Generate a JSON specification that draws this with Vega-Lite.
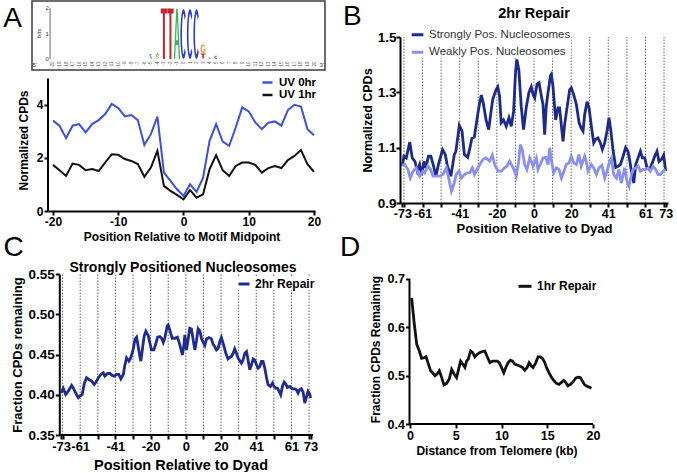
{
"$schema": "https://vega.github.io/schema/vega-lite/v6.json",
"background": "white",
"padding": {"left": 3, "top": 0, "right": 0, "bottom": 0},
"columns": 2,
"spacing": {"row": 63, "column": 85},
"bounds": "flush",
"align": "each",
"resolve": {"scale": {"color": "independent"}, "legend": {"color": "independent"}},
"datasets": {
"A": [
{"p":-20,"s":"UV 0hr","v":3.41},{"p":-19,"s":"UV 0hr","v":3.22},{"p":-18,"s":"UV 0hr","v":2.75},{"p":-17,"s":"UV 0hr","v":3.22},{"p":-16,"s":"UV 0hr","v":3.28},{"p":-15,"s":"UV 0hr","v":2.97},{"p":-14,"s":"UV 0hr","v":3.28},{"p":-13,"s":"UV 0hr","v":3.43},{"p":-12,"s":"UV 0hr","v":3.66},{"p":-11,"s":"UV 0hr","v":4.04},{"p":-10,"s":"UV 0hr","v":3.89},{"p":-9,"s":"UV 0hr","v":3.57},{"p":-8,"s":"UV 0hr","v":3.62},{"p":-7,"s":"UV 0hr","v":3.43},{"p":-6,"s":"UV 0hr","v":2.49},{"p":-5,"s":"UV 0hr","v":2.9},{"p":-4,"s":"UV 0hr","v":3.56},{"p":-3,"s":"UV 0hr","v":1.45},{"p":-2,"s":"UV 0hr","v":1.14},{"p":-1,"s":"UV 0hr","v":0.82},{"p":0,"s":"UV 0hr","v":0.57},{"p":1,"s":"UV 0hr","v":1.01},{"p":2,"s":"UV 0hr","v":0.72},{"p":3,"s":"UV 0hr","v":1.26},{"p":4,"s":"UV 0hr","v":2.65},{"p":5,"s":"UV 0hr","v":3.28},{"p":6,"s":"UV 0hr","v":2.62},{"p":7,"s":"UV 0hr","v":2.46},{"p":8,"s":"UV 0hr","v":3.15},{"p":9,"s":"UV 0hr","v":3.91},{"p":10,"s":"UV 0hr","v":3.76},{"p":11,"s":"UV 0hr","v":3.34},{"p":12,"s":"UV 0hr","v":3.09},{"p":13,"s":"UV 0hr","v":3.33},{"p":14,"s":"UV 0hr","v":3.38},{"p":15,"s":"UV 0hr","v":3.22},{"p":16,"s":"UV 0hr","v":3.81},{"p":17,"s":"UV 0hr","v":4.01},{"p":18,"s":"UV 0hr","v":3.94},{"p":19,"s":"UV 0hr","v":3.09},{"p":20,"s":"UV 0hr","v":2.86},
{"p":-20,"s":"UV 1hr","v":1.74},{"p":-19,"s":"UV 1hr","v":1.54},{"p":-18,"s":"UV 1hr","v":1.32},{"p":-17,"s":"UV 1hr","v":1.79},{"p":-16,"s":"UV 1hr","v":1.74},{"p":-15,"s":"UV 1hr","v":1.54},{"p":-14,"s":"UV 1hr","v":1.58},{"p":-13,"s":"UV 1hr","v":1.51},{"p":-12,"s":"UV 1hr","v":1.83},{"p":-11,"s":"UV 1hr","v":2.14},{"p":-10,"s":"UV 1hr","v":2.12},{"p":-9,"s":"UV 1hr","v":1.96},{"p":-8,"s":"UV 1hr","v":1.89},{"p":-7,"s":"UV 1hr","v":1.77},{"p":-6,"s":"UV 1hr","v":1.29},{"p":-5,"s":"UV 1hr","v":1.64},{"p":-4,"s":"UV 1hr","v":2.27},{"p":-3,"s":"UV 1hr","v":0.95},{"p":-2,"s":"UV 1hr","v":0.76},{"p":-1,"s":"UV 1hr","v":0.61},{"p":0,"s":"UV 1hr","v":0.44},{"p":1,"s":"UV 1hr","v":0.79},{"p":2,"s":"UV 1hr","v":0.5},{"p":3,"s":"UV 1hr","v":0.63},{"p":4,"s":"UV 1hr","v":1.58},{"p":5,"s":"UV 1hr","v":2.11},{"p":6,"s":"UV 1hr","v":1.54},{"p":7,"s":"UV 1hr","v":1.32},{"p":8,"s":"UV 1hr","v":1.7},{"p":9,"s":"UV 1hr","v":1.83},{"p":10,"s":"UV 1hr","v":1.83},{"p":11,"s":"UV 1hr","v":1.74},{"p":12,"s":"UV 1hr","v":1.45},{"p":13,"s":"UV 1hr","v":1.62},{"p":14,"s":"UV 1hr","v":1.7},{"p":15,"s":"UV 1hr","v":1.62},{"p":16,"s":"UV 1hr","v":1.92},{"p":17,"s":"UV 1hr","v":2.08},{"p":18,"s":"UV 1hr","v":2.3},{"p":19,"s":"UV 1hr","v":1.77},{"p":20,"s":"UV 1hr","v":1.48}
],
"logo": [
{"p":-3,"l":"T","top":1.98,"h":1.98},{"p":-2,"l":"T","top":1.98,"h":1.98},{"p":-1,"l":"A","top":1.97,"h":1.97},{"p":0,"l":"C","top":1.96,"h":1.96},{"p":1,"l":"C","top":1.96,"h":1.96},{"p":2,"l":"C","top":1.95,"h":1.95},{"p":3,"l":"t","top":0.22,"h":0.2},{"p":3,"l":"G","top":0.58,"h":0.36},{"p":-5,"l":"a","top":0.1,"h":0.1},{"p":-5,"l":"c","top":0.2,"h":0.1},{"p":-4,"l":"g","top":0.12,"h":0.12},{"p":-4,"l":"a","top":0.24,"h":0.12},{"p":4,"l":"a","top":0.07,"h":0.07},{"p":5,"l":"c","top":0.13,"h":0.13}
],
"dots": [{"p":-72.1},{"p":-61.8},{"p":-51.5},{"p":-41.2},{"p":-30.9},{"p":-20.6},{"p":-10.3},{"p":0},{"p":10.3},{"p":20.6},{"p":30.9},{"p":41.2},{"p":51.5},{"p":61.8},{"p":72.1}],
"B": [
{"p":-73,"s":"Strongly Pos. Nucleosomes","v":1.035},{"p":-72.1,"s":"Strongly Pos. Nucleosomes","v":1.069},{"p":-70.8,"s":"Strongly Pos. Nucleosomes","v":1.063},{"p":-68.9,"s":"Strongly Pos. Nucleosomes","v":1.12},{"p":-67.5,"s":"Strongly Pos. Nucleosomes","v":1.063},{"p":-66,"s":"Strongly Pos. Nucleosomes","v":1.05},{"p":-64.7,"s":"Strongly Pos. Nucleosomes","v":1.015},{"p":-63.4,"s":"Strongly Pos. Nucleosomes","v":1.039},{"p":-62.3,"s":"Strongly Pos. Nucleosomes","v":1.003},{"p":-61,"s":"Strongly Pos. Nucleosomes","v":1.05},{"p":-60,"s":"Strongly Pos. Nucleosomes","v":1.027},{"p":-58.5,"s":"Strongly Pos. Nucleosomes","v":1.069},{"p":-57.2,"s":"Strongly Pos. Nucleosomes","v":1.069},{"p":-55.9,"s":"Strongly Pos. Nucleosomes","v":1.039},{"p":-54.4,"s":"Strongly Pos. Nucleosomes","v":0.997},{"p":-53,"s":"Strongly Pos. Nucleosomes","v":1.039},{"p":-50.7,"s":"Strongly Pos. Nucleosomes","v":1.093},{"p":-49.2,"s":"Strongly Pos. Nucleosomes","v":1.075},{"p":-48,"s":"Strongly Pos. Nucleosomes","v":1.033},{"p":-46.1,"s":"Strongly Pos. Nucleosomes","v":0.997},{"p":-44.2,"s":"Strongly Pos. Nucleosomes","v":1.075},{"p":-43.3,"s":"Strongly Pos. Nucleosomes","v":1.087},{"p":-41.4,"s":"Strongly Pos. Nucleosomes","v":1.18},{"p":-39.9,"s":"Strongly Pos. Nucleosomes","v":1.16},{"p":-38.6,"s":"Strongly Pos. Nucleosomes","v":1.075},{"p":-36.8,"s":"Strongly Pos. Nucleosomes","v":1.065},{"p":-35.5,"s":"Strongly Pos. Nucleosomes","v":1.1},{"p":-34.4,"s":"Strongly Pos. Nucleosomes","v":1.135},{"p":-33.1,"s":"Strongly Pos. Nucleosomes","v":1.138},{"p":-31.8,"s":"Strongly Pos. Nucleosomes","v":1.195},{"p":-30.3,"s":"Strongly Pos. Nucleosomes","v":1.256},{"p":-29.2,"s":"Strongly Pos. Nucleosomes","v":1.29},{"p":-28.1,"s":"Strongly Pos. Nucleosomes","v":1.26},{"p":-26.6,"s":"Strongly Pos. Nucleosomes","v":1.2},{"p":-25.1,"s":"Strongly Pos. Nucleosomes","v":1.165},{"p":-23.8,"s":"Strongly Pos. Nucleosomes","v":1.232},{"p":-22.9,"s":"Strongly Pos. Nucleosomes","v":1.274},{"p":-21,"s":"Strongly Pos. Nucleosomes","v":1.31},{"p":-20.1,"s":"Strongly Pos. Nucleosomes","v":1.32},{"p":-19.1,"s":"Strongly Pos. Nucleosomes","v":1.286},{"p":-18.2,"s":"Strongly Pos. Nucleosomes","v":1.19},{"p":-16.9,"s":"Strongly Pos. Nucleosomes","v":1.2},{"p":-15.4,"s":"Strongly Pos. Nucleosomes","v":1.177},{"p":-13.9,"s":"Strongly Pos. Nucleosomes","v":1.208},{"p":-12.6,"s":"Strongly Pos. Nucleosomes","v":1.177},{"p":-11.3,"s":"Strongly Pos. Nucleosomes","v":1.232},{"p":-10.2,"s":"Strongly Pos. Nucleosomes","v":1.377},{"p":-9.5,"s":"Strongly Pos. Nucleosomes","v":1.419},{"p":-8.4,"s":"Strongly Pos. Nucleosomes","v":1.38},{"p":-7.1,"s":"Strongly Pos. Nucleosomes","v":1.25},{"p":-5.8,"s":"Strongly Pos. Nucleosomes","v":1.165},{"p":-4.3,"s":"Strongly Pos. Nucleosomes","v":1.245},{"p":-2.8,"s":"Strongly Pos. Nucleosomes","v":1.3},{"p":-1.5,"s":"Strongly Pos. Nucleosomes","v":1.32},{"p":-0.4,"s":"Strongly Pos. Nucleosomes","v":1.29},{"p":0.4,"s":"Strongly Pos. Nucleosomes","v":1.28},{"p":1.7,"s":"Strongly Pos. Nucleosomes","v":1.33},{"p":2.8,"s":"Strongly Pos. Nucleosomes","v":1.335},{"p":4.1,"s":"Strongly Pos. Nucleosomes","v":1.286},{"p":5,"s":"Strongly Pos. Nucleosomes","v":1.256},{"p":5.9,"s":"Strongly Pos. Nucleosomes","v":1.147},{"p":6.8,"s":"Strongly Pos. Nucleosomes","v":1.25},{"p":7.8,"s":"Strongly Pos. Nucleosomes","v":1.3},{"p":9.1,"s":"Strongly Pos. Nucleosomes","v":1.36},{"p":9.6,"s":"Strongly Pos. Nucleosomes","v":1.365},{"p":10.5,"s":"Strongly Pos. Nucleosomes","v":1.323},{"p":12,"s":"Strongly Pos. Nucleosomes","v":1.2},{"p":13.3,"s":"Strongly Pos. Nucleosomes","v":1.244},{"p":14.2,"s":"Strongly Pos. Nucleosomes","v":1.244},{"p":15.2,"s":"Strongly Pos. Nucleosomes","v":1.178},{"p":16.1,"s":"Strongly Pos. Nucleosomes","v":1.123},{"p":17,"s":"Strongly Pos. Nucleosomes","v":1.184},{"p":18.3,"s":"Strongly Pos. Nucleosomes","v":1.244},{"p":19.8,"s":"Strongly Pos. Nucleosomes","v":1.31},{"p":20.7,"s":"Strongly Pos. Nucleosomes","v":1.316},{"p":22,"s":"Strongly Pos. Nucleosomes","v":1.292},{"p":23.5,"s":"Strongly Pos. Nucleosomes","v":1.256},{"p":25,"s":"Strongly Pos. Nucleosomes","v":1.19},{"p":26.2,"s":"Strongly Pos. Nucleosomes","v":1.17},{"p":27.2,"s":"Strongly Pos. Nucleosomes","v":1.16},{"p":28.1,"s":"Strongly Pos. Nucleosomes","v":1.22},{"p":29.4,"s":"Strongly Pos. Nucleosomes","v":1.266},{"p":30.5,"s":"Strongly Pos. Nucleosomes","v":1.244},{"p":31.8,"s":"Strongly Pos. Nucleosomes","v":1.178},{"p":33.1,"s":"Strongly Pos. Nucleosomes","v":1.117},{"p":34.2,"s":"Strongly Pos. Nucleosomes","v":1.13},{"p":35.5,"s":"Strongly Pos. Nucleosomes","v":1.135},{"p":36.8,"s":"Strongly Pos. Nucleosomes","v":1.117},{"p":37.9,"s":"Strongly Pos. Nucleosomes","v":1.093},{"p":39.2,"s":"Strongly Pos. Nucleosomes","v":1.117},{"p":40.5,"s":"Strongly Pos. Nucleosomes","v":1.16},{"p":41.6,"s":"Strongly Pos. Nucleosomes","v":1.208},{"p":42.5,"s":"Strongly Pos. Nucleosomes","v":1.166},{"p":43.8,"s":"Strongly Pos. Nucleosomes","v":1.093},{"p":45.3,"s":"Strongly Pos. Nucleosomes","v":1.029},{"p":46.6,"s":"Strongly Pos. Nucleosomes","v":1.033},{"p":47.9,"s":"Strongly Pos. Nucleosomes","v":1.039},{"p":49.4,"s":"Strongly Pos. Nucleosomes","v":1.069},{"p":50.8,"s":"Strongly Pos. Nucleosomes","v":1.1},{"p":52.1,"s":"Strongly Pos. Nucleosomes","v":1.087},{"p":53,"s":"Strongly Pos. Nucleosomes","v":1.057},{"p":54,"s":"Strongly Pos. Nucleosomes","v":1.015},{"p":55.3,"s":"Strongly Pos. Nucleosomes","v":0.972},{"p":56.4,"s":"Strongly Pos. Nucleosomes","v":1.039},{"p":57.7,"s":"Strongly Pos. Nucleosomes","v":1.063},{"p":59,"s":"Strongly Pos. Nucleosomes","v":1.087},{"p":60.1,"s":"Strongly Pos. Nucleosomes","v":1.063},{"p":61.4,"s":"Strongly Pos. Nucleosomes","v":1.063},{"p":62.7,"s":"Strongly Pos. Nucleosomes","v":1.027},{"p":64.1,"s":"Strongly Pos. Nucleosomes","v":1.021},{"p":65.6,"s":"Strongly Pos. Nucleosomes","v":1.045},{"p":66.9,"s":"Strongly Pos. Nucleosomes","v":1.069},{"p":68.2,"s":"Strongly Pos. Nucleosomes","v":1.087},{"p":69.3,"s":"Strongly Pos. Nucleosomes","v":1.05},{"p":70.6,"s":"Strongly Pos. Nucleosomes","v":1.057},{"p":71.9,"s":"Strongly Pos. Nucleosomes","v":1.073},{"p":73,"s":"Strongly Pos. Nucleosomes","v":1.015},
{"p":-73,"s":"Weakly Pos. Nucleosomes","v":1.036},{"p":-71.7,"s":"Weakly Pos. Nucleosomes","v":1.039},{"p":-69.9,"s":"Weakly Pos. Nucleosomes","v":1.021},{"p":-68.6,"s":"Weakly Pos. Nucleosomes","v":0.99},{"p":-67.1,"s":"Weakly Pos. Nucleosomes","v":1.015},{"p":-65.3,"s":"Weakly Pos. Nucleosomes","v":1.027},{"p":-63.4,"s":"Weakly Pos. Nucleosomes","v":0.997},{"p":-61.6,"s":"Weakly Pos. Nucleosomes","v":1.015},{"p":-60.6,"s":"Weakly Pos. Nucleosomes","v":1.009},{"p":-58.8,"s":"Weakly Pos. Nucleosomes","v":1.033},{"p":-57.3,"s":"Weakly Pos. Nucleosomes","v":1.021},{"p":-56,"s":"Weakly Pos. Nucleosomes","v":0.997},{"p":-54.2,"s":"Weakly Pos. Nucleosomes","v":0.997},{"p":-52.3,"s":"Weakly Pos. Nucleosomes","v":0.997},{"p":-50.5,"s":"Weakly Pos. Nucleosomes","v":1.003},{"p":-48.6,"s":"Weakly Pos. Nucleosomes","v":1.027},{"p":-47.3,"s":"Weakly Pos. Nucleosomes","v":0.99},{"p":-45.8,"s":"Weakly Pos. Nucleosomes","v":0.942},{"p":-44.5,"s":"Weakly Pos. Nucleosomes","v":0.966},{"p":-43.1,"s":"Weakly Pos. Nucleosomes","v":1.003},{"p":-41.6,"s":"Weakly Pos. Nucleosomes","v":1.015},{"p":-40.3,"s":"Weakly Pos. Nucleosomes","v":0.99},{"p":-38.5,"s":"Weakly Pos. Nucleosomes","v":1.003},{"p":-37,"s":"Weakly Pos. Nucleosomes","v":1.009},{"p":-35.7,"s":"Weakly Pos. Nucleosomes","v":1.009},{"p":-34.2,"s":"Weakly Pos. Nucleosomes","v":1.027},{"p":-33,"s":"Weakly Pos. Nucleosomes","v":1.003},{"p":-31.6,"s":"Weakly Pos. Nucleosomes","v":1.021},{"p":-30.1,"s":"Weakly Pos. Nucleosomes","v":1.039},{"p":-28.3,"s":"Weakly Pos. Nucleosomes","v":1.057},{"p":-26.5,"s":"Weakly Pos. Nucleosomes","v":1.063},{"p":-24.6,"s":"Weakly Pos. Nucleosomes","v":1.051},{"p":-23.1,"s":"Weakly Pos. Nucleosomes","v":1.073},{"p":-21.8,"s":"Weakly Pos. Nucleosomes","v":1.039},{"p":-20,"s":"Weakly Pos. Nucleosomes","v":1.015},{"p":-18.1,"s":"Weakly Pos. Nucleosomes","v":1.015},{"p":-16.3,"s":"Weakly Pos. Nucleosomes","v":1.027},{"p":-15,"s":"Weakly Pos. Nucleosomes","v":1.033},{"p":-13.5,"s":"Weakly Pos. Nucleosomes","v":1.051},{"p":-11.6,"s":"Weakly Pos. Nucleosomes","v":1.027},{"p":-9.8,"s":"Weakly Pos. Nucleosomes","v":0.997},{"p":-8.5,"s":"Weakly Pos. Nucleosomes","v":1.051},{"p":-7.6,"s":"Weakly Pos. Nucleosomes","v":1.111},{"p":-6.5,"s":"Weakly Pos. Nucleosomes","v":1.093},{"p":-5.2,"s":"Weakly Pos. Nucleosomes","v":1.039},{"p":-3.9,"s":"Weakly Pos. Nucleosomes","v":1.021},{"p":-2.4,"s":"Weakly Pos. Nucleosomes","v":1.063},{"p":-1.5,"s":"Weakly Pos. Nucleosomes","v":1.051},{"p":-0.6,"s":"Weakly Pos. Nucleosomes","v":1.033},{"p":1.3,"s":"Weakly Pos. Nucleosomes","v":1.063},{"p":2.2,"s":"Weakly Pos. Nucleosomes","v":1.021},{"p":3.5,"s":"Weakly Pos. Nucleosomes","v":1.039},{"p":5,"s":"Weakly Pos. Nucleosomes","v":1.063},{"p":6.5,"s":"Weakly Pos. Nucleosomes","v":1.065},{"p":7.8,"s":"Weakly Pos. Nucleosomes","v":1.039},{"p":8.7,"s":"Weakly Pos. Nucleosomes","v":1.099},{"p":9.6,"s":"Weakly Pos. Nucleosomes","v":1.057},{"p":10.9,"s":"Weakly Pos. Nucleosomes","v":1.009},{"p":12.4,"s":"Weakly Pos. Nucleosomes","v":1.027},{"p":13.9,"s":"Weakly Pos. Nucleosomes","v":1.021},{"p":15.2,"s":"Weakly Pos. Nucleosomes","v":0.99},{"p":16.6,"s":"Weakly Pos. Nucleosomes","v":1.015},{"p":17.9,"s":"Weakly Pos. Nucleosomes","v":1.039},{"p":19.4,"s":"Weakly Pos. Nucleosomes","v":1.045},{"p":20.7,"s":"Weakly Pos. Nucleosomes","v":1.069},{"p":22,"s":"Weakly Pos. Nucleosomes","v":1.045},{"p":23.5,"s":"Weakly Pos. Nucleosomes","v":1.039},{"p":24.9,"s":"Weakly Pos. Nucleosomes","v":1.075},{"p":26.2,"s":"Weakly Pos. Nucleosomes","v":1.033},{"p":28.1,"s":"Weakly Pos. Nucleosomes","v":1.069},{"p":29,"s":"Weakly Pos. Nucleosomes","v":1.051},{"p":29.9,"s":"Weakly Pos. Nucleosomes","v":1.015},{"p":31.8,"s":"Weakly Pos. Nucleosomes","v":1.039},{"p":33.1,"s":"Weakly Pos. Nucleosomes","v":1.027},{"p":34.6,"s":"Weakly Pos. Nucleosomes","v":1.003},{"p":36,"s":"Weakly Pos. Nucleosomes","v":1.027},{"p":37.7,"s":"Weakly Pos. Nucleosomes","v":1.036},{"p":39.2,"s":"Weakly Pos. Nucleosomes","v":0.99},{"p":40.5,"s":"Weakly Pos. Nucleosomes","v":1.015},{"p":42,"s":"Weakly Pos. Nucleosomes","v":1.051},{"p":42.9,"s":"Weakly Pos. Nucleosomes","v":1.063},{"p":44.2,"s":"Weakly Pos. Nucleosomes","v":1.003},{"p":45.7,"s":"Weakly Pos. Nucleosomes","v":0.99},{"p":47.1,"s":"Weakly Pos. Nucleosomes","v":1.021},{"p":48.4,"s":"Weakly Pos. Nucleosomes","v":0.972},{"p":50.3,"s":"Weakly Pos. Nucleosomes","v":1.027},{"p":51.6,"s":"Weakly Pos. Nucleosomes","v":0.978},{"p":52.7,"s":"Weakly Pos. Nucleosomes","v":0.96},{"p":54,"s":"Weakly Pos. Nucleosomes","v":1.003},{"p":54.9,"s":"Weakly Pos. Nucleosomes","v":1.021},{"p":56.4,"s":"Weakly Pos. Nucleosomes","v":1.027},{"p":57.7,"s":"Weakly Pos. Nucleosomes","v":1.033},{"p":59,"s":"Weakly Pos. Nucleosomes","v":1.015},{"p":60.5,"s":"Weakly Pos. Nucleosomes","v":1.021},{"p":61.9,"s":"Weakly Pos. Nucleosomes","v":1.021},{"p":63.2,"s":"Weakly Pos. Nucleosomes","v":1.027},{"p":64.5,"s":"Weakly Pos. Nucleosomes","v":1.015},{"p":66,"s":"Weakly Pos. Nucleosomes","v":1.033},{"p":67.5,"s":"Weakly Pos. Nucleosomes","v":1.021},{"p":68.8,"s":"Weakly Pos. Nucleosomes","v":1.003},{"p":70.1,"s":"Weakly Pos. Nucleosomes","v":1.003},{"p":71.6,"s":"Weakly Pos. Nucleosomes","v":1.015},{"p":73,"s":"Weakly Pos. Nucleosomes","v":1.021}
],
"C": [
{"p":-73,"v":0.4025},{"p":-71.7,"v":0.4078},{"p":-70.3,"v":0.4004},{"p":-68.8,"v":0.4045},{"p":-66.8,"v":0.4116},{"p":-65.9,"v":0.4087},{"p":-64.5,"v":0.4025},{"p":-62.9,"v":0.3963},{"p":-62,"v":0.3983},{"p":-60.6,"v":0.4004},{"p":-59.4,"v":0.414},{"p":-58.1,"v":0.4211},{"p":-56.7,"v":0.419},{"p":-55.1,"v":0.417},{"p":-53.6,"v":0.4128},{"p":-52.2,"v":0.417},{"p":-51.2,"v":0.4211},{"p":-49.7,"v":0.4252},{"p":-48.3,"v":0.4273},{"p":-47.4,"v":0.4231},{"p":-45.8,"v":0.4264},{"p":-44.4,"v":0.4264},{"p":-43.1,"v":0.424},{"p":-41.9,"v":0.4231},{"p":-40.5,"v":0.4252},{"p":-39.2,"v":0.4252},{"p":-38,"v":0.4198},{"p":-36.6,"v":0.4252},{"p":-35.7,"v":0.4364},{"p":-34.7,"v":0.4459},{"p":-33.3,"v":0.4417},{"p":-32.2,"v":0.4459},{"p":-30.8,"v":0.4562},{"p":-29.8,"v":0.4686},{"p":-28.8,"v":0.4715},{"p":-27.9,"v":0.4603},{"p":-26.9,"v":0.4479},{"p":-26.3,"v":0.4417},{"p":-25.3,"v":0.4583},{"p":-24.4,"v":0.4727},{"p":-23.4,"v":0.4789},{"p":-22,"v":0.4735},{"p":-21,"v":0.464},{"p":-20.1,"v":0.4558},{"p":-18.7,"v":0.4558},{"p":-17.5,"v":0.464},{"p":-16.5,"v":0.4715},{"p":-15.2,"v":0.4723},{"p":-14.2,"v":0.4702},{"p":-13.2,"v":0.4649},{"p":-12.3,"v":0.4702},{"p":-10.9,"v":0.4855},{"p":-10.3,"v":0.4867},{"p":-9.4,"v":0.4806},{"p":-8,"v":0.4702},{"p":-6.4,"v":0.4702},{"p":-4.9,"v":0.4715},{"p":-3.5,"v":0.462},{"p":-2,"v":0.4495},{"p":-1.2,"v":0.4599},{"p":-0.6,"v":0.4744},{"p":0,"v":0.4628},{"p":0.4,"v":0.4557},{"p":1.4,"v":0.4694},{"p":2.3,"v":0.4826},{"p":3.3,"v":0.4818},{"p":4.3,"v":0.4682},{"p":5.3,"v":0.4557},{"p":6.2,"v":0.4669},{"p":7.2,"v":0.4818},{"p":8.2,"v":0.4793},{"p":9.2,"v":0.4694},{"p":10.1,"v":0.4653},{"p":11.1,"v":0.4612},{"p":12.1,"v":0.4694},{"p":13.6,"v":0.471},{"p":15,"v":0.4694},{"p":15.9,"v":0.4628},{"p":16.9,"v":0.4599},{"p":17.9,"v":0.4557},{"p":18.9,"v":0.4578},{"p":19.9,"v":0.4661},{"p":20.8,"v":0.471},{"p":21.8,"v":0.464},{"p":23.4,"v":0.4516},{"p":24.7,"v":0.4446},{"p":25.7,"v":0.4463},{"p":26.7,"v":0.4475},{"p":27.7,"v":0.4516},{"p":28.6,"v":0.457},{"p":29.6,"v":0.4516},{"p":30.6,"v":0.4454},{"p":31.6,"v":0.4421},{"p":32.5,"v":0.4392},{"p":33.5,"v":0.4434},{"p":34.5,"v":0.4516},{"p":35.5,"v":0.4537},{"p":36.4,"v":0.4434},{"p":37.4,"v":0.431},{"p":38.4,"v":0.4372},{"p":39.4,"v":0.4446},{"p":40.3,"v":0.4434},{"p":41.3,"v":0.4372},{"p":42.3,"v":0.4331},{"p":43.3,"v":0.4351},{"p":44.2,"v":0.4413},{"p":45.2,"v":0.4413},{"p":46.2,"v":0.4331},{"p":47.2,"v":0.4215},{"p":48.1,"v":0.4124},{"p":49.5,"v":0.4103},{"p":50.7,"v":0.4145},{"p":51.6,"v":0.4103},{"p":52.6,"v":0.4083},{"p":53.6,"v":0.4083},{"p":54.6,"v":0.4041},{"p":55.5,"v":0.4},{"p":56.5,"v":0.4103},{"p":57.5,"v":0.4157},{"p":58.5,"v":0.4132},{"p":59.4,"v":0.4091},{"p":60.8,"v":0.4103},{"p":62.3,"v":0.4074},{"p":63.7,"v":0.4074},{"p":64.7,"v":0.4062},{"p":65.7,"v":0.402},{"p":66.6,"v":0.4062},{"p":67.6,"v":0.4074},{"p":68.6,"v":0.4033},{"p":69.6,"v":0.3897},{"p":70.5,"v":0.3967},{"p":71.5,"v":0.4041},{"p":72.5,"v":0.4008},{"p":73,"v":0.3959}
],
"D": [
{"kb":0.18,"v":0.661},{"kb":0.45,"v":0.61},{"kb":0.73,"v":0.565},{"kb":1.02,"v":0.551},{"kb":1.27,"v":0.536},{"kb":1.53,"v":0.537},{"kb":1.75,"v":0.539},{"kb":2,"v":0.525},{"kb":2.25,"v":0.51},{"kb":2.47,"v":0.506},{"kb":2.73,"v":0.5},{"kb":2.98,"v":0.504},{"kb":3.2,"v":0.51},{"kb":3.45,"v":0.497},{"kb":3.71,"v":0.481},{"kb":4,"v":0.484},{"kb":4.29,"v":0.493},{"kb":4.55,"v":0.513},{"kb":4.8,"v":0.504},{"kb":5.09,"v":0.496},{"kb":5.27,"v":0.51},{"kb":5.53,"v":0.53},{"kb":5.75,"v":0.524},{"kb":6,"v":0.517},{"kb":6.18,"v":0.53},{"kb":6.36,"v":0.534},{"kb":6.62,"v":0.551},{"kb":6.84,"v":0.548},{"kb":7.09,"v":0.539},{"kb":7.35,"v":0.544},{"kb":7.64,"v":0.548},{"kb":7.93,"v":0.55},{"kb":8.18,"v":0.551},{"kb":8.44,"v":0.539},{"kb":8.73,"v":0.527},{"kb":9.02,"v":0.53},{"kb":9.27,"v":0.53},{"kb":9.53,"v":0.53},{"kb":9.75,"v":0.527},{"kb":10,"v":0.517},{"kb":10.25,"v":0.506},{"kb":10.47,"v":0.517},{"kb":10.73,"v":0.527},{"kb":10.98,"v":0.532},{"kb":11.2,"v":0.53},{"kb":11.45,"v":0.524},{"kb":11.71,"v":0.522},{"kb":12,"v":0.52},{"kb":12.29,"v":0.517},{"kb":12.55,"v":0.511},{"kb":12.8,"v":0.517},{"kb":13.02,"v":0.527},{"kb":13.27,"v":0.52},{"kb":13.45,"v":0.517},{"kb":13.75,"v":0.527},{"kb":14,"v":0.539},{"kb":14.25,"v":0.539},{"kb":14.47,"v":0.536},{"kb":14.73,"v":0.527},{"kb":14.91,"v":0.517},{"kb":15.2,"v":0.506},{"kb":15.45,"v":0.497},{"kb":15.71,"v":0.49},{"kb":16,"v":0.484},{"kb":16.29,"v":0.482},{"kb":16.55,"v":0.486},{"kb":16.8,"v":0.49},{"kb":17.02,"v":0.486},{"kb":17.27,"v":0.479},{"kb":17.53,"v":0.482},{"kb":17.82,"v":0.487},{"kb":18.11,"v":0.495},{"kb":18.36,"v":0.497},{"kb":18.62,"v":0.496},{"kb":18.84,"v":0.489},{"kb":19.09,"v":0.481},{"kb":19.35,"v":0.478},{"kb":19.64,"v":0.476},{"kb":19.82,"v":0.474}
]
},
"concat": [
{
"width": 267, "height": 174,
"resolve": {"scale": {"x": "independent", "y": "independent"}},
"layer": [
{"layer": [
{"data": {"values": [{}]},
 "mark": {"type": "rect", "fillOpacity": 0, "stroke": "#3c3c3c", "strokeWidth": 1.5},
 "encoding": {
  "x": {"datum": -23.218, "type": "quantitative", "scale": {"domain": [-20.766, 20.153], "nice": false, "zero": false},
        "axis": {"orient": "bottom", "offset": -151, "tickCount": 60, "values": [-20,-19,-18,-17,-16,-15,-14,-13,-12,-11,-10,-9,-8,-7,-6,-5,-4,-3,-2,-1,0,1,2,3,4,5,6,7,8,9,10,11,12,13,14,15,16,17,18,19,20], "domain": false, "ticks": false, "labelAngle": 270, "labelAlign": "right", "labelBaseline": "middle", "labelFontSize": 4.5, "labelFontWeight": "normal", "labelColor": "#555", "labelPadding": 1, "labelOverlap": false, "labelFlush": false, "labelExpr": "datum.value < 0 ? '-' + abs(datum.value) : '' + datum.value", "title": null}},
  "x2": {"datum": 21.686},
  "y": {"datum": 2.275, "type": "quantitative", "scale": {"domain": [-5.961, 0.863], "nice": false, "zero": false}, "axis": null},
  "y2": {"datum": -0.431}
 }},
{"data": {"name": "logo"},
 "mark": {"type": "point", "filled": true, "opacity": 1, "strokeWidth": 0},
 "encoding": {
  "x": {"field": "p", "type": "quantitative", "scale": {"domain": [-20.766, 20.153], "nice": false, "zero": false}},
  "y": {"field": "top", "type": "quantitative", "scale": {"domain": [-5.961, 0.863], "nice": false, "zero": false}, "axis": null},
  "shape": {"field": "l", "type": "nominal", "legend": null, "scale": {"domain": ["T","A","C","G","t","a","c","g"], "range": [
    "M-0.125,0H0.125V0.2H0.04V2H-0.04V0.2H-0.125Z",
    "M-0.125,2L-0.03,0H0.03L0.125,2H0.07L0.05,1.45H-0.05L-0.07,2ZM-0.036,1.25H0.036L0,0.42Z",
    "M0.0884,0.2929A0.125,1,0,1,0,0.0884,1.7071L0.0424,1.5657A0.06,0.8,0,1,1,0.0424,0.4343Z",
    "M0.424,0.293A0.6,1,0,1,0,0.6,1H0.1V1.25H0.273A0.3,0.6,0,1,1,0.212,0.576Z",
    "M-1,0H1V0.4H0.3V2H-0.3V0.4H-1Z",
    "M-1,2L-0.25,0H0.25L1,2H0.55L0.4,1.4H-0.4L-0.55,2Z",
    "M0.707,0.293A1,1,0,1,0,0.707,1.707L0.354,1.424A0.5,0.6,0,1,1,0.354,0.576Z",
    "M0.707,0.293A1,1,0,1,0,1,1H0.2V1.3H0.45A0.5,0.6,0,1,1,0.354,0.576Z"]}},
  "size": {"field": "h", "type": "quantitative", "legend": null, "scale": {"type": "pow", "exponent": 2, "domain": [0, 2], "range": [0, 2601]}},
  "fill": {"field": "l", "type": "nominal", "legend": null, "scale": {"domain": ["T","A","C","G","t","a","c","g"], "range": ["#c8252d","#3fb54a","#2a3bd0","#f2a23a","#c8252d","#3fb54a","#2a3bd0","#f2a23a"]}}
 }},
{"data": {"values": [{"b": 0}, {"b": 1}, {"b": 2}]},
 "mark": {"type": "text", "align": "right", "baseline": "middle", "fontSize": 6, "color": "#333", "dx": -1},
 "encoding": {
  "x": {"datum": -20.5, "type": "quantitative", "scale": {"domain": [-20.766, 20.153], "nice": false, "zero": false}},
  "y": {"field": "b", "type": "quantitative", "scale": {"domain": [-5.961, 0.863], "nice": false, "zero": false}, "axis": null},
  "text": {"field": "b", "type": "quantitative"}
 }},
{"data": {"values": [{}]},
 "mark": {"type": "rule", "color": "#444", "strokeWidth": 0.8},
 "encoding": {
  "x": {"datum": -20.45, "type": "quantitative", "scale": {"domain": [-20.766, 20.153], "nice": false, "zero": false}},
  "y": {"datum": 0, "type": "quantitative", "scale": {"domain": [-5.961, 0.863], "nice": false, "zero": false}, "axis": null},
  "y2": {"datum": 2}
 }},
{"data": {"values": [{}]},
 "mark": {"type": "text", "text": "bits", "angle": 270, "align": "center", "baseline": "middle", "fontSize": 6, "color": "#333"},
 "encoding": {
  "x": {"datum": -22.1, "type": "quantitative", "scale": {"domain": [-20.766, 20.153], "nice": false, "zero": false}},
  "y": {"datum": 1, "type": "quantitative", "scale": {"domain": [-5.961, 0.863], "nice": false, "zero": false}, "axis": null}
 }},
{"data": {"values": [{"t": "5'", "x": -22.8}, {"t": "3'", "x": 21.2}]},
 "mark": {"type": "text", "align": "center", "baseline": "middle", "fontSize": 6, "color": "#333"},
 "encoding": {
  "x": {"field": "x", "type": "quantitative", "scale": {"domain": [-20.766, 20.153], "nice": false, "zero": false}},
  "y": {"datum": -0.24, "type": "quantitative", "scale": {"domain": [-5.961, 0.863], "nice": false, "zero": false}, "axis": null},
  "text": {"field": "t"}
 }}
]},
{"layer": [
{"data": {"name": "A"},
 "mark": {"type": "line", "strokeWidth": 2},
 "encoding": {
  "x": {"field": "p", "type": "quantitative", "scale": {"domain": [-20.766, 20.153], "nice": false, "zero": false},
        "axis": {"orient": "bottom", "values": [-20,-15,-10,-5,0,5,10,15,20], "labelExpr": "datum.value < 0 ? '-' + abs(datum.value) : '' + datum.value", "labelFlush": false, "labelFontSize": 12, "title": "Position Relative to Motif Midpoint", "titleFontSize": 12, "titlePadding": 4}},
  "y": {"field": "v", "type": "quantitative", "scale": {"domain": [0, 6.566], "nice": false, "zero": false},
        "axis": {"orient": "left", "values": [0,1,2,3,4,5], "domain": false, "labelFontSize": 12, "title": "Normalized CPDs", "titleFontSize": 12, "titleY": 103, "titlePadding": 6}},
  "color": {"field": "s", "type": "nominal", "scale": {"domain": ["UV 0hr", "UV 1hr"], "range": ["#3a50e0", "#111111"]},
            "legend": {"orient": "none", "legendX": 213, "legendY": 39, "title": null, "symbolType": "stroke", "symbolSize": 100, "symbolStrokeWidth": 2.5, "labelFontSize": 11.5, "labelFontWeight": "bold", "labelColor": "#000", "rowPadding": 0.5, "labelOffset": 5}}
 }},
{"data": {"values": [{}]},
 "mark": {"type": "rule", "color": "#000", "strokeWidth": 2},
 "encoding": {
  "x": {"datum": -20.766, "type": "quantitative", "scale": {"domain": [-20.766, 20.153], "nice": false, "zero": false}},
  "y": {"datum": 0, "type": "quantitative", "scale": {"domain": [0, 6.566], "nice": false, "zero": false}},
  "y2": {"datum": 5}
 }},
{"data": {"values": [{}]},
 "mark": {"type": "text", "text": "A", "fontSize": 28, "align": "left", "baseline": "alphabetic", "color": "#000"},
 "encoding": {
  "x": {"datum": -27.62, "type": "quantitative", "scale": {"domain": [-20.766, 20.153], "nice": false, "zero": false}},
  "y": {"datum": 6.962, "type": "quantitative", "scale": {"domain": [0, 6.566], "nice": false, "zero": false}}
 }}
]}
]
},
{
"width": 268, "height": 166,
"layer": [
{"data": {"name": "dots"},
 "mark": {"type": "rule", "color": "#666", "strokeWidth": 1, "strokeDash": [1.5, 1.5]},
 "encoding": {
  "x": {"field": "p", "type": "quantitative", "scale": {"domain": [-74.3, 74.3], "nice": false, "zero": false}},
  "y": {"datum": 0.9, "type": "quantitative", "scale": {"domain": [0.9, 1.5], "nice": false, "zero": false}},
  "y2": {"datum": 1.5}
 }},
{"data": {"name": "B"},
 "mark": {"type": "line", "strokeWidth": 2.8},
 "encoding": {
  "x": {"field": "p", "type": "quantitative", "scale": {"domain": [-74.3, 74.3], "nice": false, "zero": false},
        "axis": {"orient": "bottom", "tickCount": 40, "values": [-73,-72.1,-61.8,-51.5,-41.2,-30.9,-20.6,-10.3,0,10.3,20.6,30.9,41.2,51.5,61.8,72.1,73], "labelExpr": "indexof([-73,-61.8,-41.2,-20.6,0,20.6,41.2,61.8,73], datum.value) >= 0 ? (datum.value < 0 ? '-' + floor(abs(datum.value)) : '' + floor(datum.value)) : ''", "labelOverlap": false, "labelFlush": false, "labelFontSize": 12.5, "labelPadding": 0, "title": "Position Relative to Dyad", "titleFontSize": 13, "titlePadding": 3}},
  "y": {"field": "v", "type": "quantitative", "scale": {"domain": [0.9, 1.5], "nice": false, "zero": false},
        "axis": {"orient": "left", "values": [0.9, 1.1, 1.3, 1.5], "format": ".1f", "labelFontSize": 13.5, "labelPadding": 0, "title": "Normalized CPDs", "titleFontSize": 12.5, "titlePadding": 3}},
  "color": {"field": "s", "type": "nominal", "scale": {"domain": ["Strongly Pos. Nucleosomes", "Weakly Pos. Nucleosomes"], "range": ["#1b2a8c", "#8a90f0"]},
            "legend": {"orient": "none", "legendX": 10, "legendY": -9.75, "title": null, "symbolType": "stroke", "symbolSize": 137, "symbolStrokeWidth": 3, "labelFontSize": 11.5, "labelFontWeight": "normal", "labelColor": "#333", "rowPadding": 3.5, "labelOffset": 4, "fillColor": "white"}}
 }},
{"data": {"values": [{}]},
 "mark": {"type": "text", "text": "2hr Repair", "fontSize": 14.5, "fontWeight": "bold", "align": "center", "baseline": "alphabetic", "color": "#000"},
 "encoding": {
  "x": {"datum": 0, "type": "quantitative", "scale": {"domain": [-74.3, 74.3], "nice": false, "zero": false}},
  "y": {"datum": 1.5669, "type": "quantitative", "scale": {"domain": [0.9, 1.5], "nice": false, "zero": false}}
 }},
{"data": {"values": [{}]},
 "mark": {"type": "text", "text": "B", "fontSize": 28, "align": "left", "baseline": "alphabetic", "color": "#000"},
 "encoding": {
  "x": {"datum": -105.9, "type": "quantitative", "scale": {"domain": [-74.3, 74.3], "nice": false, "zero": false}},
  "y": {"datum": 1.5434, "type": "quantitative", "scale": {"domain": [0.9, 1.5], "nice": false, "zero": false}}
 }}
]
},
{
"width": 265, "height": 161,
"layer": [
{"data": {"name": "dots"},
 "mark": {"type": "rule", "color": "#666", "strokeWidth": 1, "strokeDash": [1.5, 1.5]},
 "encoding": {
  "x": {"field": "p", "type": "quantitative", "scale": {"domain": [-80.64, 74.4], "nice": false, "zero": false}},
  "y": {"datum": 0.35, "type": "quantitative", "scale": {"domain": [0.35, 0.55], "nice": false, "zero": false}},
  "y2": {"datum": 0.55}
 }},
{"data": {"name": "C"},
 "mark": {"type": "line", "strokeWidth": 2.8},
 "encoding": {
  "x": {"field": "p", "type": "quantitative", "scale": {"domain": [-80.64, 74.4], "nice": false, "zero": false},
        "axis": {"orient": "bottom", "domain": false, "tickCount": 40, "values": [-73,-72.1,-61.8,-51.5,-41.2,-30.9,-20.6,-10.3,0,10.3,20.6,30.9,41.2,51.5,61.8,72.1,73], "labelExpr": "indexof([-73,-61.8,-41.2,-20.6,0,20.6,41.2,61.8,73], datum.value) >= 0 ? (datum.value < 0 ? '-' + floor(abs(datum.value)) : '' + floor(datum.value)) : ''", "labelOverlap": false, "labelFlush": false, "labelFontSize": 13, "labelPadding": 1, "title": "Position Relative to Dyad", "titleFontSize": 14.5, "titlePadding": 5}},
  "y": {"field": "v", "type": "quantitative", "scale": {"domain": [0.35, 0.55], "nice": false, "zero": false},
        "axis": {"orient": "left", "offset": -11.3, "values": [0.35, 0.4, 0.45, 0.5, 0.55], "format": ".2f", "labelFontSize": 13.5, "labelPadding": 1, "title": "Fraction CPDs remaining", "titleFontSize": 13, "titlePadding": 4}},
  "color": {"datum": "2hr Repair", "type": "nominal", "scale": {"domain": ["2hr Repair"], "range": ["#1f2b90"]},
            "legend": {"orient": "none", "legendX": 189, "legendY": 3, "title": null, "symbolType": "stroke", "symbolSize": 121, "symbolStrokeWidth": 3, "labelFontSize": 12, "labelFontWeight": "bold", "labelColor": "#000", "labelOffset": 4, "fillColor": "white"}}
 }},
{"data": {"values": [{}]},
 "mark": {"type": "rule", "color": "#000", "strokeWidth": 2},
 "encoding": {
  "x": {"datum": -74.2, "type": "quantitative", "scale": {"domain": [-80.64, 74.4], "nice": false, "zero": false}},
  "x2": {"datum": 74.4},
  "y": {"datum": 0.35, "type": "quantitative", "scale": {"domain": [0.35, 0.55], "nice": false, "zero": false}}
 }},
{"data": {"values": [{}]},
 "mark": {"type": "text", "text": "Strongly Positioned Nucleosomes", "fontSize": 14, "fontWeight": "bold", "align": "center", "baseline": "alphabetic", "color": "#000"},
 "encoding": {
  "x": {"datum": -1.66, "type": "quantitative", "scale": {"domain": [-80.64, 74.4], "nice": false, "zero": false}},
  "y": {"datum": 0.5531, "type": "quantitative", "scale": {"domain": [0.35, 0.55], "nice": false, "zero": false}}
 }},
{"data": {"values": [{}]},
 "mark": {"type": "text", "text": "C", "fontSize": 28, "align": "left", "baseline": "alphabetic", "color": "#000"},
 "encoding": {
  "x": {"datum": -106.67, "type": "quantitative", "scale": {"domain": [-80.64, 74.4], "nice": false, "zero": false}},
  "y": {"datum": 0.5724, "type": "quantitative", "scale": {"domain": [0.35, 0.55], "nice": false, "zero": false}}
 }}
]
},
{
"width": 193, "height": 150,
"layer": [
{"data": {"name": "D"},
 "mark": {"type": "line", "strokeWidth": 2.8},
 "encoding": {
  "x": {"field": "kb", "type": "quantitative", "scale": {"domain": [-1.093, 20], "nice": false, "zero": false},
        "axis": {"orient": "bottom", "domain": false, "values": [0, 5, 10, 15, 20], "labelFlush": false, "labelFontSize": 12.5, "labelPadding": 1, "title": "Distance from Telomere (kb)", "titleFontSize": 12, "titlePadding": 4}},
  "y": {"field": "v", "type": "quantitative", "scale": {"domain": [0.4, 0.7103], "nice": false, "zero": false},
        "axis": {"orient": "left", "offset": -9.5, "domain": false, "values": [0.4, 0.5, 0.6, 0.7], "format": ".1f", "labelFontSize": 12.5, "labelPadding": 1, "title": "Fraction CPDs Remaining", "titleFontSize": 12, "titlePadding": 5}},
  "color": {"datum": "1hr Repair", "type": "nominal", "scale": {"domain": ["1hr Repair"], "range": ["#111111"]},
            "legend": {"orient": "none", "legendX": 117, "legendY": 4.3, "title": null, "symbolType": "stroke", "symbolSize": 169, "symbolStrokeWidth": 3, "labelFontSize": 12, "labelFontWeight": "bold", "labelColor": "#000", "labelOffset": 4}}
 }},
{"data": {"values": [{}]},
 "mark": {"type": "rule", "color": "#000", "strokeWidth": 2},
 "encoding": {
  "x": {"datum": -0.055, "type": "quantitative", "scale": {"domain": [-1.093, 20], "nice": false, "zero": false}},
  "y": {"datum": 0.4, "type": "quantitative", "scale": {"domain": [0.4, 0.7103], "nice": false, "zero": false}},
  "y2": {"datum": 0.7}
 }},
{"data": {"values": [{}]},
 "mark": {"type": "rule", "color": "#000", "strokeWidth": 2},
 "encoding": {
  "x": {"datum": -0.055, "type": "quantitative", "scale": {"domain": [-1.093, 20], "nice": false, "zero": false}},
  "x2": {"datum": 20},
  "y": {"datum": 0.4, "type": "quantitative", "scale": {"domain": [0.4, 0.7103], "nice": false, "zero": false}}
 }},
{"data": {"values": [{}]},
 "mark": {"type": "text", "text": "D", "fontSize": 28, "align": "left", "baseline": "alphabetic", "color": "#000"},
 "encoding": {
  "x": {"datum": -7.65, "type": "quantitative", "scale": {"domain": [-1.093, 20], "nice": false, "zero": false}},
  "y": {"datum": 0.7476, "type": "quantitative", "scale": {"domain": [0.4, 0.7103], "nice": false, "zero": false}}
 }}
]
}
],
"config": {
 "font": "Liberation Sans",
 "view": {"stroke": null},
 "axis": {"labelFont": "Liberation Sans", "labelFontWeight": "bold", "labelColor": "#000", "titleFont": "Liberation Sans", "titleFontWeight": "bold", "titleColor": "#000", "domainColor": "#000", "domainWidth": 2, "tickColor": "#000", "tickWidth": 2, "tickSize": 4, "labelPadding": 1, "grid": false},
 "legend": {"labelFont": "Liberation Sans", "padding": 0},
 "text": {"font": "Liberation Sans"},
 "title": {"font": "Liberation Sans"}
}
}
